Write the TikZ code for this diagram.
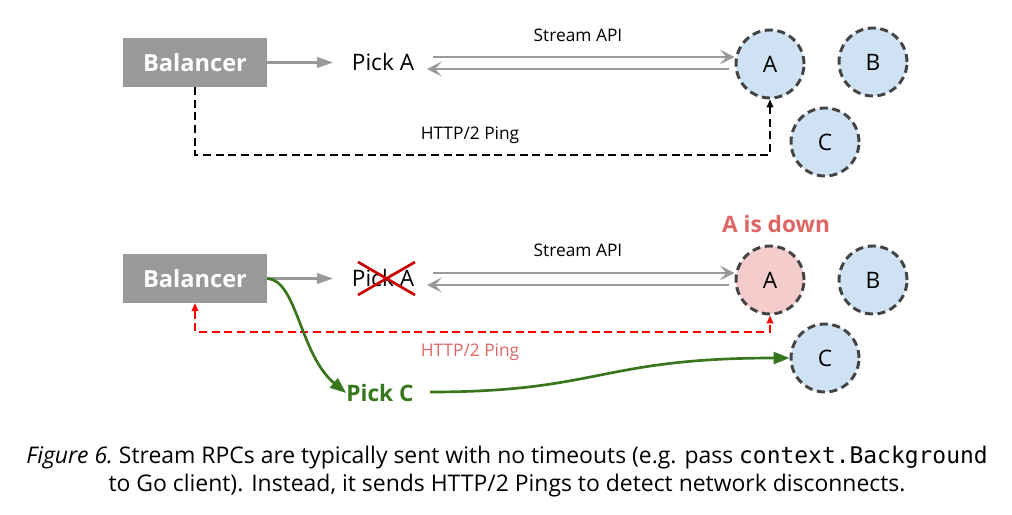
\documentclass[tikz,border=0pt]{standalone}
\usepackage{fontspec}
\setmainfont{Open Sans}
\setmonofont{DejaVu Sans Mono}
\usetikzlibrary{arrows.meta,positioning}
\definecolor{boxgray}{HTML}{999999}
\definecolor{srvblue}{HTML}{CFE2F3}
\definecolor{srvpink}{HTML}{F4CCCC}
\definecolor{srvedge}{HTML}{434343}
\definecolor{downred}{HTML}{E06666}
\definecolor{crossred}{HTML}{CC0000}
\definecolor{pickgreen}{HTML}{38761D}
\tikzset{
  balbox/.style={fill=boxgray, text=white, font=\fontsize{17.7}{20}\selectfont\bfseries, minimum width=108pt, minimum height=36.5pt, inner sep=0pt},
  server/.style={circle, draw=srvedge, line width=2.2pt, dash pattern=on 6pt off 3.5pt, minimum size=51pt, inner sep=0pt, font=\fontsize{17}{19}\selectfont},
  pick/.style={font=\fontsize{17}{19}\selectfont, inner sep=0pt},
  lbl/.style={font=\fontsize{13}{15}\selectfont, inner sep=0pt},
  grayarrow/.style={draw=boxgray, line width=1.6pt, -{Triangle[length=12pt,width=8pt]}},
  streamarrow/.style={draw=boxgray, line width=2.1pt, -{Stealth[length=11pt,width=11pt,inset=5pt]}},
  pingline/.style={line width=1pt, dash pattern=on 6pt off 3.5pt},
  greenarrow/.style={draw=pickgreen, line width=2pt, -{Triangle[length=12pt,width=9pt]}},
}
\begin{document}
\begin{tikzpicture}[x=0.75pt,y=-0.75pt]
\useasboundingbox (0,0) rectangle (1012,514);
% ---------- top ----------
\node[balbox] (bal1) at (195,62.5) {Balancer};
\node[pick] (pickA1) at (383,62) {Pick A};
\node[server, fill=srvblue] (A1) at (770,64) {A};
\node[server, fill=srvblue] (B1) at (873,62) {B};
\node[server, fill=srvblue] (C1) at (825,142) {C};
\coordinate (s1a) at (433,57);
\coordinate (s1b) at (427,69);
\node[lbl] (sapi1) at (578,35) {Stream API};
\node[lbl] (ping1) at (470,135) {HTTP/2 Ping};
\draw[grayarrow] (bal1.east) -- (333,62.5);
\draw[streamarrow] (s1a) -- (A1.west |- s1a);
\draw[streamarrow] (729,69) -- (s1b);
\draw[pingline, -{Triangle[length=6pt,width=5pt]}] (bal1.south) |- (770,155) -- (A1.south);
% ---------- bottom ----------
\node[balbox] (bal2) at (195,278.5) {Balancer};
\node[pick] (pickA2) at (383,278) {Pick A};
\draw[crossred, line width=2pt] (358,262) -- (415,295) (358,295) -- (415,262);
\node[server, fill=srvpink] (A2) at (770,280) {A};
\node[server, fill=srvblue] (B2) at (873,280) {B};
\node[server, fill=srvblue] (C2) at (825,358) {C};
\node[font=\fontsize{17}{20}\selectfont\bfseries, text=downred, inner sep=0pt] (down) at (776,224) {A is down};
\coordinate (s2a) at (433,273);
\coordinate (s2b) at (427,285);
\node[lbl] (sapi2) at (578,250) {Stream API};
\node[lbl, text=downred] (ping2) at (470,352) {HTTP/2 Ping};
\draw[grayarrow] (bal2.east) -- (333,278.5);
\draw[streamarrow] (s2a) -- (A2.west |- s2a);
\draw[streamarrow] (729,285) -- (s2b);
\draw[pingline, red, {Triangle[length=6pt,width=5pt]}-{Triangle[length=6pt,width=5pt]}] (bal2.south) |- (770,332) -- (A2.south);
\node[font=\fontsize{17}{19}\selectfont\bfseries, text=pickgreen, inner sep=0pt] (pickC) at (380,393) {Pick C};
\draw[greenarrow] (bal2.east) .. controls (297,280) and (300,355) .. (pickC.west);
\draw[greenarrow] (430,392) .. controls (600,392) and (600,358) .. (C2.west);
% ---------- caption ----------
\node[font=\fontsize{17.2}{21}\selectfont, align=center, inner sep=0pt] (cap) at (507,472) {\textit{Figure 6.}~Stream RPCs are typically sent with no timeouts (e.g. pass \texttt{context.Background}\\to Go client). Instead, it sends HTTP/2 Pings to detect network disconnects.};
\end{tikzpicture}
\end{document}
